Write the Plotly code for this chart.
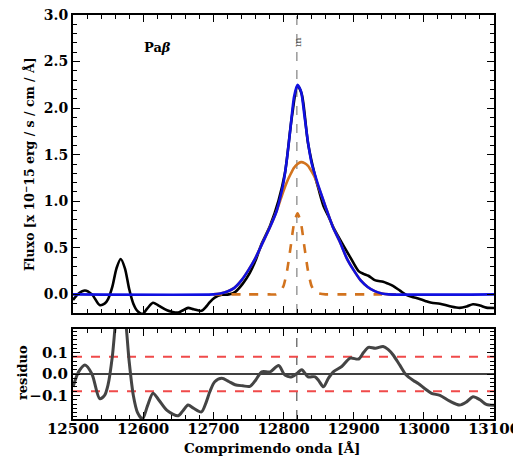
import plotly.graph_objects as go

# ---------------- data ----------------
# observed spectrum / residual sampling wavelengths
obs_wave = [12500, 12508, 12517, 12527, 12538, 12545, 12550, 12556, 12562, 12568,
            12574, 12580, 12586, 12592, 12599, 12606, 12614, 12622, 12634, 12650,
            12657, 12664, 12672, 12683, 12690, 12695, 12702, 12712, 12722, 12731,
            12742, 12752, 12760, 12769, 12781, 12793, 12802, 12812, 12820, 12826,
            12835, 12845, 12850, 12857, 12864, 12871, 12883, 12895, 12907, 12914,
            12921, 12931, 12942, 12949, 12956, 12966, 12975, 12985, 12992, 13002,
            13011, 13023, 13037, 13051, 13061, 13070, 13080, 13089, 13100]

obs_flux = [-0.06, 0.01, 0.042, 0.0, -0.115, -0.10, -0.05, 0.08, 0.28, 0.38,
            0.28, 0.06, -0.10, -0.18, -0.21, -0.15, -0.09, -0.12, -0.17, -0.195,
            -0.17, -0.145, -0.16, -0.177, -0.13, -0.083, -0.035, -0.005, 0.0, 0.025,
            0.115, 0.23, 0.36, 0.545, 0.74, 1.01, 1.30, 1.91, 2.24, 2.15,
            1.62, 1.27, 1.13, 0.95, 0.84, 0.72, 0.555, 0.40, 0.25, 0.22,
            0.20, 0.15, 0.136, 0.115, 0.09, 0.04, -0.005, -0.03, -0.044, -0.07,
            -0.09, -0.10, -0.127, -0.145, -0.13, -0.106, -0.12, -0.142, -0.146]

residual = [-0.06, 0.01, 0.042, 0.0, -0.115, -0.10, -0.05, 0.08, 0.28, 0.38,
            0.28, 0.06, -0.10, -0.18, -0.21, -0.15, -0.09, -0.12, -0.17, -0.195,
            -0.17, -0.145, -0.16, -0.177, -0.13, -0.083, -0.036, -0.02, -0.035, -0.05,
            -0.055, -0.058, -0.03, 0.01, 0.01, 0.04, -0.005, -0.013, 0.005, 0.02,
            -0.013, -0.013, -0.03, -0.06, -0.02, 0.01, 0.035, 0.074, 0.07, 0.10,
            0.124, 0.12, 0.128, 0.115, 0.09, 0.04, -0.005, -0.03, -0.044, -0.07,
            -0.09, -0.10, -0.127, -0.145, -0.13, -0.106, -0.12, -0.142, -0.146]

# model components
model_wave = [12700, 12710, 12720, 12730, 12740, 12750, 12760, 12770, 12780, 12790,
              12795, 12800, 12805, 12810, 12815, 12820, 12825, 12830, 12835, 12840,
              12845, 12850, 12860, 12870, 12880, 12890, 12900, 12910, 12920, 12930,
              12940, 12950, 12960]
broad_comp = [0.0, 0.01, 0.03, 0.07, 0.15, 0.26, 0.39, 0.55, 0.71, 0.89,
              1.00, 1.11, 1.21, 1.29, 1.36, 1.40, 1.42, 1.41, 1.38, 1.32,
              1.25, 1.15, 0.94, 0.73, 0.57, 0.39, 0.26, 0.15, 0.08, 0.035,
              0.01, 0.0, 0.0]
narrow_comp = [0.0, 0.0, 0.0, 0.0, 0.0, 0.0, 0.0, 0.0, 0.0, 0.0,
               0.03, 0.09, 0.25, 0.50, 0.76, 0.87, 0.76, 0.50, 0.25, 0.09,
               0.03, 0.01, 0.0, 0.0, 0.0, 0.0, 0.0, 0.0, 0.0, 0.0,
               0.0, 0.0, 0.0]

total_wave = [12500, 12700, 12710, 12720, 12730, 12740, 12750, 12760, 12770, 12780,
              12790, 12795, 12800, 12805, 12810, 12815, 12820, 12825, 12830, 12835,
              12840, 12845, 12850, 12860, 12870, 12880, 12890, 12900, 12910, 12920,
              12930, 12940, 12950, 13100]
total_fit = [0.0, 0.0, 0.01, 0.03, 0.07, 0.15, 0.26, 0.39, 0.55, 0.71,
             0.89, 1.03, 1.20, 1.46, 1.79, 2.12, 2.25, 2.18, 1.91, 1.63,
             1.41, 1.28, 1.16, 0.94, 0.73, 0.57, 0.39, 0.26, 0.15, 0.08,
             0.035, 0.01, 0.0, 0.0]

line_center = 12819
line_label = "m"
panel_label = "Pa<i>β</i>"
resid_band = [0.08, -0.08]

x_ticks = [12500, 12600, 12700, 12800, 12900, 13000, 13100]
x_tick_labels = ["12500", "12600", "12700", "12800", "12900", "13000", "13100"]
flux_ticks = [0.0, 0.5, 1.0, 1.5, 2.0, 2.5, 3.0]
resid_ticks = [-0.1, 0.0, 0.1]

# ---------------- figure ----------------
FONT = "DejaVu Serif"
OFF = 8                       # page body margin offset
W, H = 521 - OFF, 459 - OFF
ML, MT = 73 - OFF, 15 - OFF   # plot frame left/top in page pixels 73/15
MR = W - (494 - OFF)
MB = H - (419 - OFF)
PW, PH = W - ML - MR, H - MT - MB


def px(x, y):
    """page pixel position -> paper coordinates"""
    return (x - OFF - ML) / PW, (H - MB - (y - OFF)) / PH


fig = go.Figure()

fig.add_trace(go.Scatter(x=obs_wave, y=obs_flux, mode="lines",
                         line=dict(color="black", width=2.6, shape="spline", smoothing=0.8),
                         xaxis="x", yaxis="y", showlegend=False))
fig.add_trace(go.Scatter(x=model_wave, y=narrow_comp, mode="lines",
                         line=dict(color="#d2731e", width=2.6, dash="dash", shape="spline", smoothing=0.6),
                         xaxis="x", yaxis="y", showlegend=False))
fig.add_trace(go.Scatter(x=model_wave, y=broad_comp, mode="lines",
                         line=dict(color="#d2731e", width=2.6, shape="spline", smoothing=0.6),
                         xaxis="x", yaxis="y", showlegend=False))
fig.add_trace(go.Scatter(x=total_wave, y=total_fit, mode="lines",
                         line=dict(color="#1010e0", width=2.6, shape="spline", smoothing=0.6),
                         xaxis="x", yaxis="y", showlegend=False))

# residual panel
fig.add_trace(go.Scatter(x=obs_wave, y=residual, mode="lines",
                         line=dict(color="#444444", width=3, shape="spline", smoothing=0.8),
                         xaxis="x2", yaxis="y2", showlegend=False))

shapes = [
    dict(type="line", xref="x", yref="y domain", x0=line_center, x1=line_center, y0=0, y1=1,
         line=dict(color="#9a9a9a", width=1.5, dash="dash"), layer="below"),
    dict(type="line", xref="x2", yref="y2 domain", x0=line_center, x1=line_center, y0=0, y1=1,
         line=dict(color="#333333", width=1, dash="dash"), layer="below"),
    dict(type="line", xref="x2 domain", yref="y2", x0=0, x1=1, y0=0, y1=0,
         line=dict(color="black", width=1.5), layer="below"),
]
for v in resid_band:
    shapes.append(dict(type="line", xref="x2 domain", yref="y2", x0=0, x1=1, y0=v, y1=v,
                       line=dict(color="#f04a4a", width=2, dash="dash"), layer="below"))

axis_common = dict(showline=True, linecolor="black", linewidth=2, mirror="allticks",
                   ticks="inside", ticklen=7, tickwidth=1.3, tickcolor="black",
                   showgrid=False, zeroline=False, automargin=False,
                   ticklabeloverflow="allow")


def ann(text, x, y, size, angle=0, color="black", weight="bold"):
    ax, ay = px(x, y)
    return dict(text=text, x=ax, y=ay, xref="paper", yref="paper", showarrow=False,
                xanchor="center", yanchor="middle", textangle=angle,
                font=dict(size=size, family=FONT, color=color, weight=weight))


top_dom = (419 - 313) / (419 - 15)
bot_dom = (419 - 329) / (419 - 15)

fig.update_layout(
    width=W, height=H,
    margin=dict(l=ML, r=MR, t=MT, b=MB, autoexpand=False),
    paper_bgcolor="white", plot_bgcolor="white",
    font=dict(family=FONT, color="black", size=13, weight="bold"),
    xaxis=dict(domain=[0, 1], range=[12500, 13100], anchor="y", tickvals=x_ticks, showticklabels=False,
               minor=dict(ticks="inside", dtick=20, tick0=12500, ticklen=4, tickcolor="black"),
               **axis_common),
    yaxis=dict(domain=[top_dom, 1], range=[-0.2, 3.0], anchor="x", tickvals=flux_ticks,
               tickformat=".1f", tickfont=dict(size=14, family=FONT, weight="bold"),
               minor=dict(ticks="inside", dtick=0.1, tick0=0, ticklen=4, tickcolor="black"),
               **axis_common),
    xaxis2=dict(domain=[0, 1], range=[12500, 13100], anchor="y2", tickvals=x_ticks,
                ticktext=x_tick_labels, tickfont=dict(size=15, family=FONT, weight="bold"),
                ticklabelstandoff=-5,
                minor=dict(ticks="inside", dtick=20, tick0=12500, ticklen=4, tickcolor="black"),
                **axis_common),
    yaxis2=dict(domain=[0, bot_dom], range=[-0.21, 0.21], anchor="x2", tickvals=resid_ticks,
                tickformat=".1f", tickfont=dict(size=15, family=FONT, weight="bold"),
                minor=dict(ticks="inside", dtick=0.02, tick0=0, ticklen=4, tickcolor="black"),
                **axis_common),
    shapes=shapes,
    annotations=[
        ann(panel_label, 157, 48, 13),
        ann(line_label, 298, 42, 10, angle=-90, color="#555555", weight="normal"),
        ann("Fluxo [x 10<sup>−</sup>15 erg / s / cm / Å]", 29, 164, 12.5, angle=-90),
        ann("residuo", 22, 373, 13, angle=-90),
        ann("Comprimendo onda [Å]", 272, 448, 13.5),
    ],
)

fig.write_html("out.html")
